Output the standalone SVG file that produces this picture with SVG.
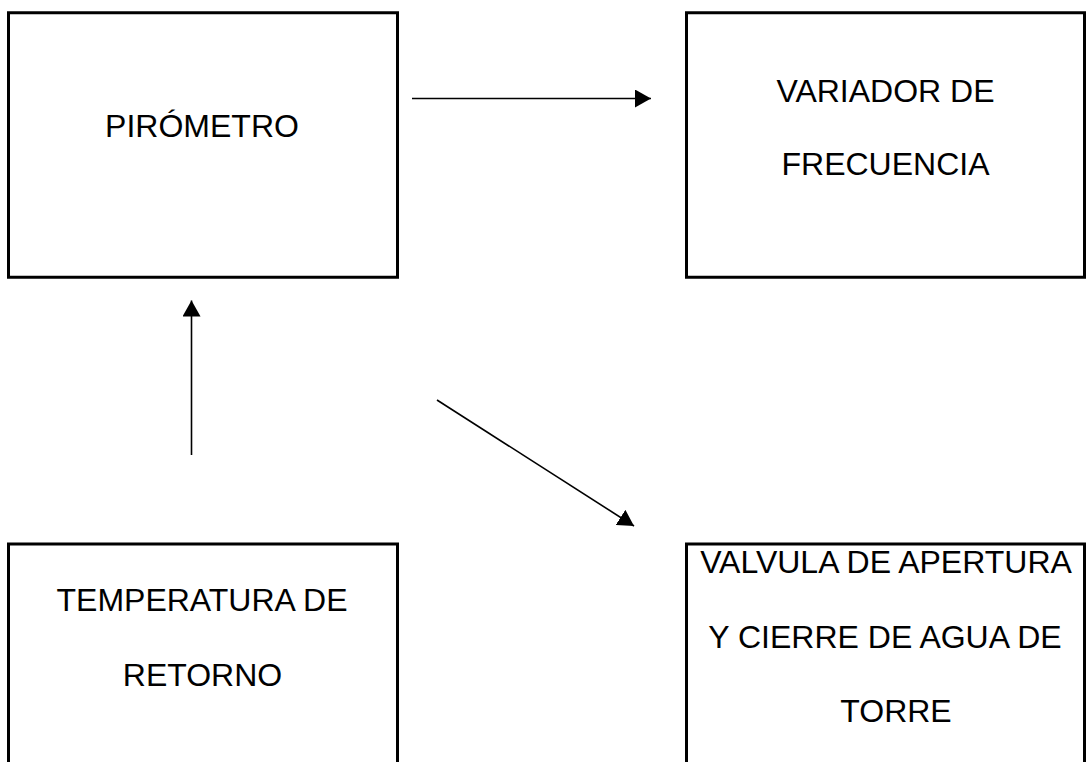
<svg xmlns="http://www.w3.org/2000/svg" width="1086" height="762" viewBox="0 0 1086 762">
  <style>
    .box { fill: #ffffff; stroke: #000000; stroke-width: 3; }
    .lbl { font-family: "Liberation Sans", Arial, sans-serif; font-size: 32px; fill: #000000; text-anchor: middle; }
    .conn { stroke: #000000; stroke-width: 1.6; fill: none; marker-end: url(#arrow); }
  </style>
  <defs>
    <marker id="arrow" markerUnits="userSpaceOnUse" markerWidth="17" markerHeight="18" refX="16" refY="9" orient="auto" viewBox="0 0 17 18">
      <path d="M0,0 L16,9 L0,18 z" fill="#000000"/>
    </marker>
  </defs>
  <rect x="0" y="0" width="1086" height="762" fill="#ffffff"/>
  <g id="pirometro">
    <rect class="box" x="8.5" y="12.75" width="389" height="264.5"/>
    <text class="lbl" x="202" y="137">PIRÓMETRO</text>
  </g>
  <g id="variador">
    <rect class="box" x="686.5" y="12.75" width="398" height="264.5"/>
    <text class="lbl" x="885.5" y="102">VARIADOR DE</text>
    <text class="lbl" x="885.5" y="175">FRECUENCIA</text>
  </g>
  <g id="temperatura">
    <rect class="box" x="8.5" y="544" width="389" height="240"/>
    <text class="lbl" x="202" y="611">TEMPERATURA DE</text>
    <text class="lbl" x="202.5" y="686">RETORNO</text>
  </g>
  <g id="valvula">
    <rect class="box" x="686.5" y="544" width="398" height="240"/>
    <text class="lbl" x="886" y="573">VALVULA DE APERTURA</text>
    <text class="lbl" x="885" y="648">Y CIERRE DE AGUA DE</text>
    <text class="lbl" x="896" y="722">TORRE</text>
  </g>
  <g id="connectors">
    <line class="conn" x1="412" y1="98.5" x2="651" y2="98.5"/>
    <line class="conn" x1="191.5" y1="455" x2="191.5" y2="300.5"/>
    <line class="conn" x1="437" y1="400" x2="634" y2="526"/>
  </g>
</svg>
